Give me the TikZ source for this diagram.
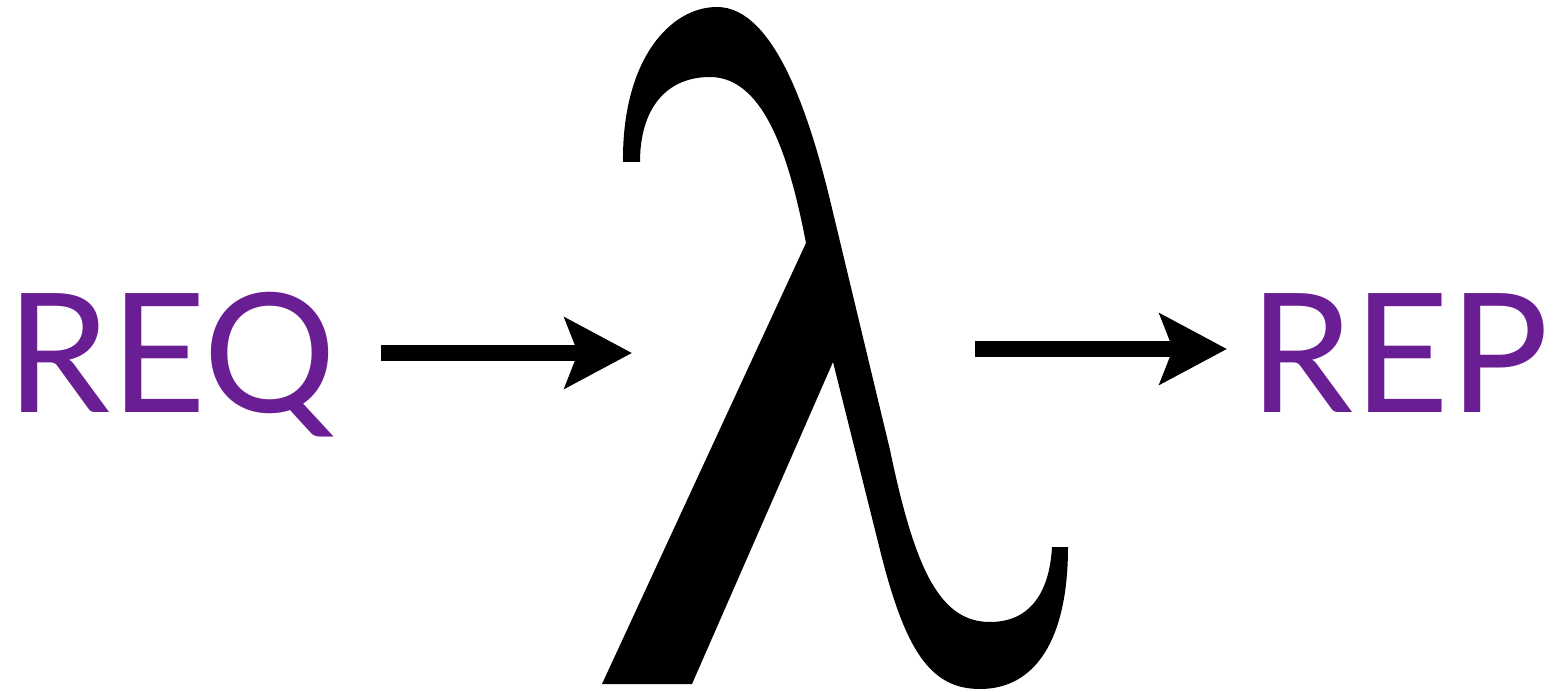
\documentclass[tikz,border=0pt]{standalone}
\usepackage{fontspec}
\usetikzlibrary{arrows.meta}
\newfontfamily\labfont{Lato}
\definecolor{reqpurple}{RGB}{106,30,148}
\begin{document}
\begin{tikzpicture}[x=1pt,y=-1pt,
  lbl/.style={inner sep=0pt,outer sep=0pt,text=reqpurple,font=\labfont\fontsize{166}{166}\selectfont},
  arr/.style={line width=16pt,-{Stealth[length=67pt,width=70pt,inset=13pt]}},
  glyph/.style={fill=black,draw=none}]
\useasboundingbox (0,0) rectangle (1553,692);
\node[lbl,anchor=base west] (req) at (6,413) {REQ};
\node[lbl,anchor=base east] (rep) at (1549,413) {REP};
% lambda glyph drawn as a filled outline
\fill[glyph] (623,162) .. controls (622,60) and (670,7) .. (717,7)
  .. controls (775,7) and (810,118) .. (830,200)
  -- (890,450)
  .. controls (915,570) and (940,622) .. (990,622)
  .. controls (1035,622) and (1050,585) .. (1052,547)
  -- (1068,547)
  .. controls (1068,640) and (1035,689) .. (980,689)
  .. controls (930,689) and (905,650) .. (880,550)
  -- (833,362) -- (692,684) -- (602,684) -- (806,243)
  .. controls (790,160) and (765,77) .. (710,77)
  .. controls (665,77) and (640,110) .. (640,162) -- cycle;
\node[inner sep=0pt,outer sep=0pt,minimum width=466pt,minimum height=683pt] (lam) at (835,348) {};
\coordinate (a1s) at (381,353);
\coordinate (a1e) at (632,353);
\coordinate (a2s) at (975,349);
\coordinate (a2e) at (1227,349);
\draw[arr] (a1s) -- (a1e);
\draw[arr] (a2s) -- (a2e);
\end{tikzpicture}
\end{document}
